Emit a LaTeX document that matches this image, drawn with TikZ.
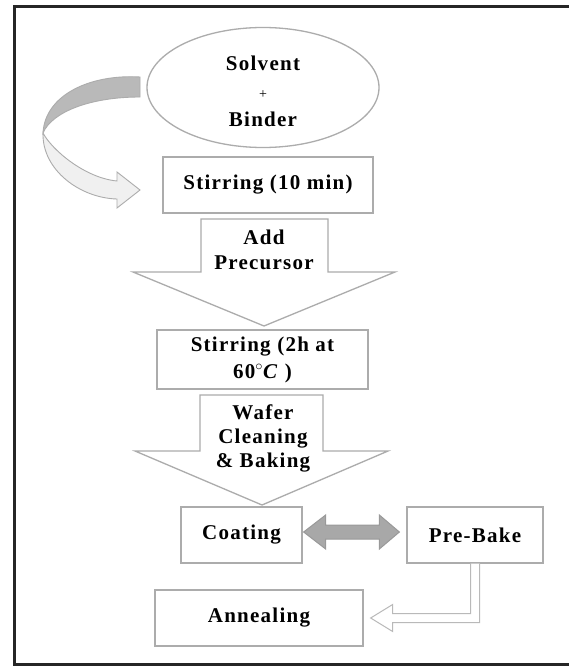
\documentclass[tikz,border=0pt]{standalone}
\usepackage{fontspec}
\setmainfont{Liberation Serif}[LetterSpace=6]
\usetikzlibrary{calc,shapes.geometric}
\begin{document}
\begin{tikzpicture}[x=1pt,y=-1pt,
  line/.style={draw=gray!65,line width=1.3pt},
  box/.style={line,fill=white,inner sep=0pt,align=center,
    font=\bfseries\fontsize{21}{27}\selectfont},
  txt/.style={inner sep=0pt,align=center,font=\bfseries\fontsize{21}{25}\selectfont},
  blockarrow/.style={line,fill=white,line join=miter},
  dblarrow/.style={draw=gray!80,line width=1pt,fill=gray!68,line join=miter},
  openarrow/.style={draw=gray!55,line width=1pt,fill=white,line join=miter},
  ribbon/.style={draw=gray!65,line width=0.9pt}]
\useasboundingbox (0,0) rectangle (569,669);
\clip (0,0) rectangle (569,669);
\fill[white] (0,0) rectangle (569,669);
\draw[line width=3pt,black!85] (14.5,6.5) rectangle (600,664.5);

% ellipse
\node[ellipse,line,minimum width=232pt,minimum height=120pt,inner sep=0pt] (mix) at (263,87.5) {};
\node[txt,font=\bfseries\fontsize{21}{28}\selectfont] (mixt) at (263,91)
  {Solvent\\{\mdseries\fontsize{14}{28}\selectfont +}\\Binder};

% curved arrow
\filldraw[ribbon,fill=gray!55] (140,77) .. controls (90,74) and (45,95) .. (43,133)
  .. controls (52,112) and (90,97) .. (140,97) -- cycle;
\filldraw[ribbon,fill=gray!12] (43,133) .. controls (42,170) and (80,198) .. (117,199)
  -- (117,208) -- (140,190) -- (117,172) -- (117,181)
  .. controls (85,178) and (52,150) .. (43,133) -- cycle;

% Stirring (10 min)
\node[box,minimum width=210pt,minimum height=56pt] (s1) at (268,185) {Stirring (10 min)};

% Add Precursor arrow
\draw[blockarrow] (201,219) -- (328,219) -- (328,272) -- (395,272) -- (264,326)
  -- (133,272) -- (201,272) -- cycle;
\node[txt] (add) at (264,250) {Add\\Precursor};

% Stirring (2h)
\node[box,minimum width=211pt,minimum height=59pt] (s2) at (262.5,359.5)
  {Stirring (2h at\\60$^{\circ}$\textit{C} )};

% Wafer arrow
\draw[blockarrow] (200,395) -- (323,395) -- (323,451) -- (388,451) -- (262,505)
  -- (135,451) -- (200,451) -- cycle;
\node[txt,font=\bfseries\fontsize{21}{24}\selectfont] (wafer) at (263,438)
  {Wafer\\Cleaning\\\& Baking};

% bottom boxes
\node[box,minimum width=121pt,minimum height=56pt] (coat) at (241.5,535) {Coating};
\node[box,minimum width=136pt,minimum height=56pt] (pre) at (475,535) {Pre-Bake};
\node[box,minimum width=208pt,minimum height=56pt] (ann) at (259,618) {Annealing};

% double arrow
\draw[dblarrow] let \p1=($(coat.east)+(1,-3)$), \p2=($(pre.west)+(-7,-3)$) in
  (\x1,\y1) -- (\x1+22pt,\y1+17pt) -- (\x1+22pt,\y1+7pt) -- (\x2-20pt,\y1+7pt)
  -- (\x2-20pt,\y1+17pt) -- (\x2,\y1) -- (\x2-20pt,\y1-17pt) -- (\x2-20pt,\y1-7pt)
  -- (\x1+22pt,\y1-7pt) -- (\x1+22pt,\y1-17pt) -- cycle;

% elbow arrow
\filldraw[openarrow] let \p1=(pre.south), \p2=(ann.east) in
  (\x1-4.5pt,\y1) -- (\x1-4.5pt,\y2+4.5pt) -- (\x2+29pt,\y2+4.5pt)
  -- (\x2+29pt,\y2+13.5pt) -- (\x2+7pt,\y2) -- (\x2+29pt,\y2-13.5pt)
  -- (\x2+29pt,\y2-4.5pt) -- (\x1+4.5pt,\y2-4.5pt) -- (\x1+4.5pt,\y1);
\end{tikzpicture}
\end{document}
